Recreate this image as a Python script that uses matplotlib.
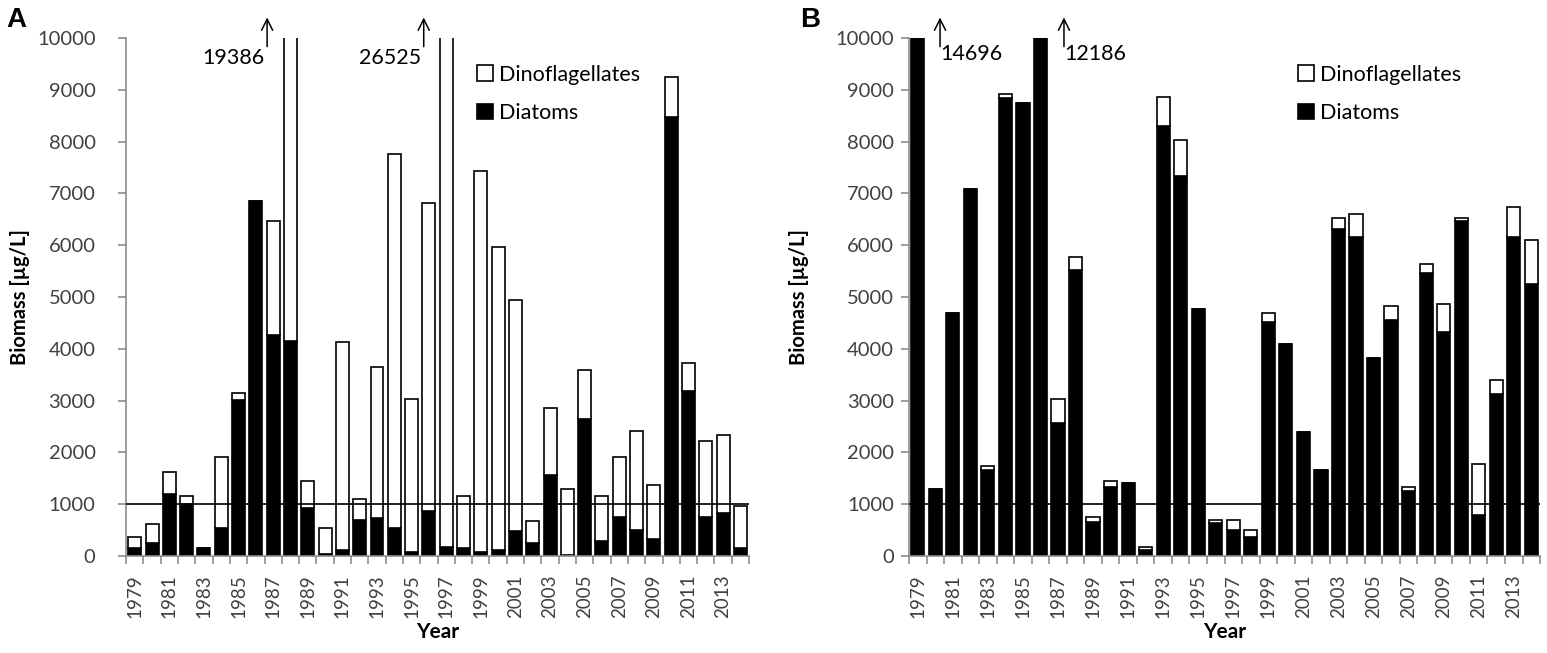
import matplotlib
matplotlib.use("Agg")
import matplotlib.pyplot as plt
import numpy as np

plt.rcParams['font.family'] = ['Lato', 'DejaVu Sans']

# years shown on both panels
years = list(range(1979, 2015))

# panel A values (ug/L)
diatoms_a = [150, 260, 1200, 1010, 150, 550, 3010, 6860, 4270, 4160,
             920, 30, 110, 700, 730, 550, 80, 870, 180, 150,
             70, 110, 480, 260, 1560, 20, 2640, 290, 760, 510,
             330, 8480, 3190, 760, 840, 150]
dino_a = [210, 350, 420, 140, 0, 1360, 130, 0, 2200, 15226,
          520, 510, 4030, 410, 2910, 7210, 2950, 5950, 26345, 1000,
          7360, 5850, 4460, 420, 1290, 1270, 960, 860, 1150, 1900,
          1040, 760, 530, 1470, 1500, 820]

# panel B values (ug/L)
diatoms_b = [14696, 1300, 4700, 7080, 1670, 8850, 8740, 12186, 2570, 5530,
             660, 1340, 1410, 110, 8300, 7340, 4760, 630, 510, 370,
             4520, 4090, 2390, 1660, 6320, 6150, 3830, 4560, 1260, 5460,
             4330, 6470, 800, 3120, 6150, 5250]
dino_b = [0, 0, 0, 0, 70, 70, 0, 0, 460, 240,
          100, 110, 0, 70, 570, 700, 0, 60, 180, 130,
          170, 0, 0, 0, 200, 450, 0, 270, 80, 170,
          540, 50, 970, 280, 590, 850]

# off-scale totals written above the plot: (label, x position in bar units)
notes_a = [("19386", 7.65), ("26525", 16.7)]
notes_b = [("14696", 1.27), ("12186", 8.34)]

grey = "#8c8c8c"
txt = "#404040"


def panel(ax, dia, dino, notes, label_left, legend_x, ypad, ylabpad):
    x = np.arange(len(years))
    ax.bar(x, dia, width=0.75, color="black", edgecolor="black",
           linewidth=1.2, label="Diatoms")
    ax.bar(x, dino, width=0.75, bottom=dia, color="white",
           edgecolor="black", linewidth=1.2, label="Dinoflagellates")
    ax.axhline(1000, color="black", linewidth=1.2, zorder=3)

    ax.set_xlim(-0.5, len(years) - 0.5)
    ax.set_ylim(0, 10000)
    ax.set_yticks(range(0, 10001, 1000))
    ax.set_xticks(x[::2])
    ax.set_xticklabels([str(y) for y in years[::2]], rotation=90)
    ax.set_xticks(np.arange(-0.5, len(years), 1), minor=True)
    ax.tick_params(axis="x", which="major", length=0, pad=13,
                   labelsize=13.5, labelcolor=txt)
    ax.tick_params(axis="x", which="minor", length=6, color=grey, width=1.2)
    ax.tick_params(axis="y", length=6, color=grey, width=1.2, pad=ypad,
                   labelsize=14.5, labelcolor=txt)

    for s in ["top", "right"]:
        ax.spines[s].set_visible(False)
    for s in ["left", "bottom"]:
        ax.spines[s].set_color(grey)
        ax.spines[s].set_linewidth(1.2)

    ax.set_ylabel("Biomass [\u00b5g/L]", fontsize=14.5, fontweight="bold",
                  labelpad=ylabpad)
    ax.set_xlabel("Year", fontsize=15, fontweight="bold", labelpad=3)

    # arrows for bars that run off the top
    for lab, xp in notes:
        ax.annotate("", xy=(xp, 10450), xytext=(xp, 9780),
                    arrowprops=dict(arrowstyle="->", color="black", lw=1.1,
                                    mutation_scale=20),
                    annotation_clip=False)
        if label_left:
            ax.text(xp - 0.15, 9620, lab, ha="right", va="center",
                    fontsize=15.5, color="black")
        else:
            ax.text(xp + 0.0, 9700, lab, ha="left", va="center",
                    fontsize=15.5, color="black")

    h, l = ax.get_legend_handles_labels()
    ax.legend(h[::-1], l[::-1], loc="upper left",
              bbox_to_anchor=(legend_x, 0.965), frameon=False,
              fontsize=15.5, handlelength=0.75, handleheight=0.75,
              handletextpad=0.25, labelspacing=0.85, borderaxespad=0)


fig = plt.figure(figsize=(15.47, 6.53), dpi=100)
ax_a = fig.add_axes([0.0815, 0.1485, 0.4027, 0.7933])
ax_b = fig.add_axes([0.5876, 0.1485, 0.4079, 0.7933])

panel(ax_a, diatoms_a, dino_a, notes_a, True, 0.55, 16, 5)
panel(ax_b, diatoms_b, dino_b, notes_b, False, 0.603, 5, 19)

fig.text(0.004, 0.99, "A", fontsize=20, fontweight="bold", va="top",
         family="Liberation Sans")
fig.text(0.517, 0.99, "B", fontsize=20, fontweight="bold", va="top",
         family="Liberation Sans")

fig.savefig("out.png", dpi=100)
